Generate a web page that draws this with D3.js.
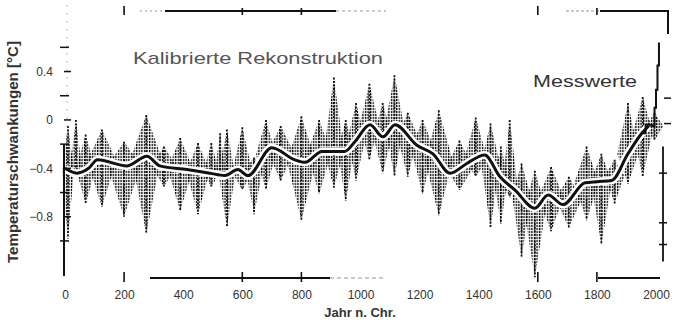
<!DOCTYPE html>
<html>
<head>
<meta charset="utf-8">
<script src="https://cdn.jsdelivr.net/npm/d3@7"></script>
<style>
  body { margin: 0; background: #fff; }
  svg { display: block; font-family: "Liberation Sans", Arial, sans-serif; }
</style>
</head>
<body>
<svg id="chart"></svg>
<script>
const binYears = [10, 37, 70, 125, 200, 275, 335, 390, 450, 495, 525, 548, 600, 640, 680, 730, 800, 860, 910, 950,
  985, 1030, 1075, 1115, 1160, 1210, 1265, 1335, 1390, 1440, 1475, 1505, 1545, 1590, 1645, 1705, 1765, 1815, 1860, 1905, 1955, 1995];
const binHigh = [-0.05, 0.0, -0.12, -0.08, -0.18, 0.04, -0.22, -0.15, -0.19, -0.19, -0.11, -0.08, -0.06, -0.31, 0.0, -0.05, 0.03, 0.0, 0.35, 0.0,
  0.14, 0.30, 0.14, 0.37, 0.06, 0.0, 0.08, -0.17, 0.02, -0.03, -0.22, 0.0, -0.36, -0.42, -0.39, -0.47, -0.22, -0.28, -0.33, 0.14, 0.19, 0.06];
const binLow = [-0.98, -0.42, -0.69, -0.72, -0.80, -0.94, -0.55, -0.75, -0.78, -0.55, -0.44, -0.89, -0.58, -0.78, -0.58, -0.50, -0.83, -0.61, -0.56, -0.67,
  -0.50, -0.33, -0.44, -0.47, -0.47, -0.61, -0.79, -0.58, -0.47, -0.89, -0.86, -0.64, -1.14, -1.30, -0.92, -0.89, -0.83, -1.03, -0.69, -0.53, -0.47, -0.17];

// smoothed reconstruction (thick line)
const smoothYears = [0, 40, 80, 110, 210, 277, 321, 413, 490, 541, 585, 619, 700, 778, 812, 870, 947, 981, 1032, 1076,
  1117, 1191, 1245, 1303, 1360, 1420, 1472, 1523, 1590, 1635, 1685, 1760, 1800, 1850, 1905, 1952, 1975];
const smoothValues = [-0.40, -0.44, -0.40, -0.33, -0.38, -0.30, -0.38, -0.41, -0.44, -0.46, -0.41, -0.46, -0.23, -0.33, -0.35, -0.26, -0.26, -0.18, -0.04, -0.14,
  -0.04, -0.21, -0.28, -0.44, -0.36, -0.29, -0.47, -0.58, -0.73, -0.62, -0.70, -0.52, -0.51, -0.50, -0.28, -0.11, -0.05];

// instrumental record ("Messwerte")
const measuredYears = [1950, 1965, 1985, 1995, 2000, 2005, 2010];
const measuredValues = [-0.11, -0.04, -0.05, 0.10, 0.25, 0.45, 0.64];

const xTicks = [0, 200, 400, 600, 800, 1000, 1200, 1400, 1600, 1800, 2000];
const yTicks = [0.4, 0, -0.4, -0.8];
const yMinorTicks = [0.6, 0.2, -0.2, -0.6, -1.0];

const width = 676, height = 323;
const svg = d3.select('#chart').attr('width', width).attr('height', height);

const x = d3.scaleLinear().domain([0, 2000]).range([65, 656]);
const y = d3.scaleLinear().domain([-1.29, 0.95]).range([276, 5]);

const ink = '#111';

// dotted texture for the annual values
const defs = svg.append('defs');
defs.append('pattern')
    .attr('id', 'dots')
    .attr('width', 2.6).attr('height', 3)
    .attr('patternUnits', 'userSpaceOnUse')
  .append('rect')
    .attr('x', 0.8).attr('y', 0)
    .attr('width', 1.4).attr('height', 2.2)
    .attr('fill', ink);

// smoothed value at any year, used to put the widest part of each spike cluster
const smoothAt = yr => {
  const i = d3.bisectLeft(smoothYears, yr);
  if (i <= 0) return smoothValues[0];
  if (i >= smoothYears.length) return smoothValues[smoothValues.length - 1];
  const t = (yr - smoothYears[i - 1]) / (smoothYears[i] - smoothYears[i - 1]);
  return smoothValues[i - 1] + t * (smoothValues[i] - smoothValues[i - 1]);
};

const bins = binYears.map((yr, i) => {
  const prev = i > 0 ? binYears[i - 1] : yr - (binYears[1] - binYears[0]);
  const next = i < binYears.length - 1 ? binYears[i + 1] : yr + (yr - binYears[i - 1]);
  return {year: yr, hi: binHigh[i], lo: binLow[i], left: (prev + yr) / 2, right: (yr + next) / 2};
});

const cloud = svg.append('g');
cloud.selectAll('.spikes')
  .data(bins)
  .join('polygon')
    .attr('class', 'spikes')
    .attr('fill', 'url(#dots)')
    .attr('points', d => {
      const half = (x(d.right) - x(d.left)) * 0.75;
      const cx = x(d.year), mid = y(smoothAt(d.year));
      return [[cx - half, mid], [cx, y(d.hi)], [cx + half, mid], [cx, y(d.lo)]].join(' ');
    });

// single extreme spike in each bin
cloud.selectAll('.peak')
  .data(bins)
  .join('line')
    .attr('class', 'peak')
    .attr('x1', d => x(d.year)).attr('x2', d => x(d.year))
    .attr('y1', d => y(d.hi)).attr('y2', d => y(d.lo))
    .attr('stroke', ink)
    .attr('stroke-width', 1.8)
    .attr('stroke-dasharray', '2,1.5');

// smoothed line: black with white halo
const smoothLine = d3.line()
    .x((d, i) => x(smoothYears[i]))
    .y(d => y(d))
    .curve(d3.curveMonotoneX);

svg.append('path')
    .attr('d', smoothLine(smoothValues))
    .attr('fill', 'none').attr('stroke', '#fff').attr('stroke-width', 8)
    .attr('stroke-linejoin', 'round');
svg.append('path')
    .attr('d', smoothLine(smoothValues))
    .attr('fill', 'none').attr('stroke', ink).attr('stroke-width', 3)
    .attr('stroke-linejoin', 'round');

const measuredLine = d3.line()
    .x((d, i) => x(measuredYears[i]))
    .y(d => y(d))
    .curve(d3.curveStepAfter);
svg.append('path')
    .attr('d', measuredLine(measuredValues))
    .attr('fill', 'none').attr('stroke', ink).attr('stroke-width', 2);

// left axis
const yAxis = d3.axisLeft(y).tickValues(yTicks).tickSize(0).tickPadding(11)
    .tickFormat(d => d === 0 ? '0' : d3.format('.1f')(d).replace('-', '\u2212'));
const yAxisG = svg.append('g')
    .attr('transform', `translate(${x(0) - 1},0)`)
    .call(yAxis);
yAxisG.select('.domain').remove();
yAxisG.selectAll('text').attr('font-size', 12).attr('fill', '#333');

const axisG = svg.append('g').attr('stroke', ink);
axisG.append('line')
    .attr('x1', x(0) - 1).attr('x2', x(0) - 1)
    .attr('y1', y(-0.2)).attr('y2', y(-1.29))
    .attr('stroke-width', 2);
axisG.append('line')
    .attr('x1', x(0) + 2).attr('x2', x(0) + 2)
    .attr('y1', y(0.95)).attr('y2', y(-0.2))
    .attr('stroke', '#bbb').attr('stroke-dasharray', '2,6');
axisG.selectAll('.ymaj')
  .data(yTicks)
  .join('line')
    .attr('class', 'ymaj')
    .attr('x1', x(0) - 1).attr('x2', x(0) + 6)
    .attr('y1', d => y(d)).attr('y2', d => y(d))
    .attr('stroke-width', 1.5);
axisG.selectAll('.ymin')
  .data(yMinorTicks)
  .join('line')
    .attr('class', 'ymin')
    .attr('x1', x(0) - 5).attr('x2', x(0) + 4)
    .attr('y1', d => y(d)).attr('y2', d => y(d))
    .attr('stroke-width', 1.5);

// right axis
axisG.append('line')
    .attr('x1', 663).attr('x2', 663)
    .attr('y1', y(-0.22)).attr('y2', y(-1.17))
    .attr('stroke-width', 1.8);
axisG.selectAll('.rmaj')
  .data([-0.44, -0.85, -1.03])
  .join('line')
    .attr('class', 'rmaj')
    .attr('x1', 659).attr('x2', 667)
    .attr('y1', d => y(d)).attr('y2', d => y(d))
    .attr('stroke-width', 1.5);
axisG.selectAll('.rtop')
  .data([0.18, -0.03])
  .join('line')
    .attr('class', 'rtop')
    .attr('x1', 664).attr('x2', 671)
    .attr('y1', d => y(d)).attr('y2', d => y(d))
    .attr('stroke-width', 1.5);

// top frame
axisG.append('line')
    .attr('x1', 140).attr('x2', 165).attr('y1', 11).attr('y2', 11)
    .attr('stroke', '#999').attr('stroke-dasharray', '2,3');
axisG.append('line')
    .attr('x1', 165).attr('x2', 336).attr('y1', 11).attr('y2', 11)
    .attr('stroke-width', 2);
axisG.append('line')
    .attr('x1', 336).attr('x2', 386).attr('y1', 11).attr('y2', 11)
    .attr('stroke', '#999').attr('stroke-dasharray', '3,3');
axisG.append('line')
    .attr('x1', 566).attr('x2', 600).attr('y1', 11).attr('y2', 11)
    .attr('stroke', '#999').attr('stroke-dasharray', '3,2');
axisG.append('path')
    .attr('d', 'M600,11H668V34')
    .attr('fill', 'none').attr('stroke-width', 2);
axisG.selectAll('.ttick')
  .data([200, 600, 800, 1600, 1800])
  .join('line')
    .attr('class', 'ttick')
    .attr('x1', d => x(d)).attr('x2', d => x(d))
    .attr('y1', d => d === 200 || d === 1600 ? 6 : 8).attr('y2', 15)
    .attr('stroke-width', 1.6);

// bottom axis
const xAxis = d3.axisBottom(x).tickValues(xTicks).tickSize(0).tickPadding(12)
    .tickFormat(d3.format('d'));
const xAxisG = svg.append('g')
    .attr('transform', 'translate(0,278)')
    .call(xAxis);
xAxisG.select('.domain').remove();
xAxisG.selectAll('text').attr('font-size', 12).attr('fill', '#333');

axisG.append('line')
    .attr('x1', 150).attr('x2', 330).attr('y1', 278).attr('y2', 278)
    .attr('stroke-width', 2);
axisG.append('line')
    .attr('x1', 330).attr('x2', 386).attr('y1', 278).attr('y2', 278)
    .attr('stroke', '#999').attr('stroke-dasharray', '4,3');
axisG.append('line')
    .attr('x1', 598).attr('x2', 660).attr('y1', 278).attr('y2', 278)
    .attr('stroke-width', 2);
axisG.selectAll('.btick')
  .data([200, 600, 800, 1600, 1800])
  .join('line')
    .attr('class', 'btick')
    .attr('x1', d => x(d)).attr('x2', d => x(d))
    .attr('y1', 272).attr('y2', 282)
    .attr('stroke-width', 1.6);

// labels
svg.append('text')
    .attr('transform', 'translate(18,152) rotate(-90)')
    .attr('text-anchor', 'middle')
    .attr('font-size', 14).attr('font-weight', 'bold').attr('fill', '#333')
    .attr('textLength', 222).attr('lengthAdjust', 'spacingAndGlyphs')
    .text('Temperaturschwankungen [°C]');

svg.append('text')
    .attr('x', 360).attr('y', 317)
    .attr('text-anchor', 'middle')
    .attr('font-size', 13).attr('font-weight', 'bold').attr('fill', '#333')
    .text('Jahr n. Chr.');

svg.append('text')
    .attr('x', 133).attr('y', 64)
    .attr('font-size', 17).attr('fill', '#555')
    .attr('textLength', 250).attr('lengthAdjust', 'spacingAndGlyphs')
    .text('Kalibrierte Rekonstruktion');

svg.append('text')
    .attr('x', 533).attr('y', 87)
    .attr('font-size', 17).attr('fill', '#333')
    .attr('textLength', 104).attr('lengthAdjust', 'spacingAndGlyphs')
    .text('Messwerte');
</script>
</body>
</html>
